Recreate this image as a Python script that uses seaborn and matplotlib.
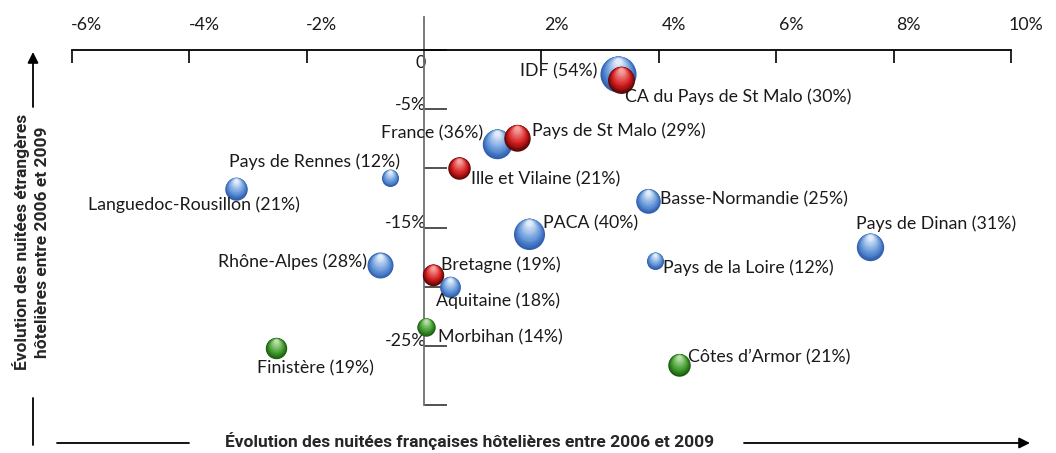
import matplotlib

matplotlib.use("Agg")
import matplotlib.pyplot as plt
import matplotlib.transforms as mtransforms
import numpy as np
import pandas as pd
import seaborn as sns
from matplotlib.colors import to_rgb

# --- data ------------------------------------------------------------------
territoires = [
    "IDF", "CA du Pays de St Malo", "France", "Pays de St Malo", "Ille et Vilaine",
    "Pays de Rennes", "Languedoc-Rousillon", "Basse-Normandie", "PACA", "Pays de Dinan",
    "Rhône-Alpes", "Pays de la Loire", "Bretagne", "Aquitaine", "Morbihan",
    "Finistère", "Côtes d’Armor",
]
evol_francaises = [3.3, 3.35, 1.25, 1.58, 0.6, -0.58, -3.2, 3.82, 1.79, 7.6,
                   -0.75, 3.93, 0.15, 0.44, 0.03, -2.52, 4.34]
evol_etrangeres = [-2.0, -2.5, -7.9, -7.4, -10.0, -10.8, -11.7, -12.75, -15.5, -16.6,
                   -18.2, -17.8, -19.0, -20.0, -23.4, -25.2, -26.6]
part_etrangers = [54, 30, 36, 29, 21, 12, 21, 25, 40, 31, 28, 12, 19, 18, 14, 19, 21]
groupe = ["autre", "ille", "autre", "ille", "ille", "autre", "autre", "autre", "autre",
          "autre", "autre", "autre", "ille", "autre", "cotes", "cotes", "cotes"]

x_ticks = [-6, -4, -2, 2, 4, 6, 8, 10]
y_ticks_major = [0, -5, -15, -25]
y_ticks_minor = [-10, -20, -30]

# --- layout / style ----------------------------------------------------------
PX = 0.72  # points per pixel at dpi 100
main_col = {"autre": "#6496da", "ille": "#d41c1c", "cotes": "#3f9a2e"}
dark_col = {"autre": "#2f5fae", "ille": "#5e0707", "cotes": "#1c5a10"}
light_col = {"autre": "#e2edf9", "ille": "#f6a0a0", "cotes": "#b8e0a8"}

# label offsets in pixels (dx, dy up) and horizontal alignment
label_pos = {
    "IDF": (-20, 2, "right"),
    "CA du Pays de St Malo": (4, -17, "left"),
    "France": (-14, 10, "right"),
    "Pays de St Malo": (15, 7, "left"),
    "Ille et Vilaine": (12, -11, "left"),
    "Pays de Rennes": (10, 16, "right"),
    "Languedoc-Rousillon": (-42, -16, "center"),
    "Basse-Normandie": (12, 2, "left"),
    "PACA": (14, 10, "left"),
    "Pays de Dinan": (66, 23, "center"),
    "Rhône-Alpes": (-13, 4, "right"),
    "Pays de la Loire": (8, -7, "left"),
    "Bretagne": (8, 10, "left"),
    "Aquitaine": (-14, -14, "left"),
    "Morbihan": (12, -10, "left"),
    "Finistère": (39, -20, "center"),
    "Côtes d’Armor": (9, 8, "left"),
}

LABEL_FONT = ["Lato", "DejaVu Sans"]
TITLE_FONT = ["Liberation Sans Narrow", "Roboto", "DejaVu Sans"]

df = pd.DataFrame({
    "territoire": territoires,
    "fr": evol_francaises,
    "etr": evol_etrangeres,
    "part": part_etrangers,
    "groupe": groupe,
})
SIZE_PER_PCT = 12.5  # marker area (pt^2) per percentage point


def mix(c1, c2, t):
    a, b = np.array(to_rgb(c1)), np.array(to_rgb(c2))
    return tuple(a + (b - a) * t)


sns.set_style("white")
plt.rcParams["font.family"] = LABEL_FONT

fig = plt.figure(figsize=(10.56, 4.53), dpi=100)
ax = fig.add_axes([0, 0, 1, 1])
ax.set_xlim(-424 / 58.7, (1056 - 424) / 58.7)
ax.set_ylim(-(453 - 50) / 11.84, 50 / 11.84)

# spheres: base disc through seaborn, then lighter discs shifted upward
n_layers = 14
for i, row in df.iterrows():
    z = 3 + i
    sns.scatterplot(
        data=df.iloc[[i]], x="fr", y="etr", hue="groupe", size="part",
        palette=dark_col, sizes=(12 * SIZE_PER_PCT, 54 * SIZE_PER_PCT), size_norm=(12, 54),
        linewidth=0, legend=False, ax=ax, zorder=z,
    )
    s = row["part"] * SIZE_PER_PCT
    r = np.sqrt(s) / 2
    g = row["groupe"]
    for k in range(1, n_layers + 1):
        t = k / n_layers
        f = 1 - 0.82 * t
        if t < 0.35:
            col = mix(dark_col[g], main_col[g], t / 0.35)
        else:
            col = mix(main_col[g], light_col[g], (t - 0.35) / 0.65)
        tr = mtransforms.offset_copy(ax.transData, fig=fig, x=0, y=r * (1 - f) * 0.85, units="points")
        ax.scatter([row["fr"]], [row["etr"]], s=(2 * r * f) ** 2, color=col, linewidths=0,
                   transform=tr, zorder=z + t * 0.5)

for _, row in df.iterrows():
    dx, dy, ha = label_pos[row["territoire"]]
    ax.annotate(
        f"{row['territoire']} ({row['part']}%)", (row["fr"], row["etr"]),
        xytext=(dx * PX, dy * PX), textcoords="offset points",
        ha=ha, va="center", fontsize=12.8, color="#1a1a1a", zorder=30,
    )

# axes: horizontal scale on top at y=0, vertical scale at x=0
for side in ["right", "bottom"]:
    ax.spines[side].set_visible(False)
ax.spines["top"].set_position(("data", 0))
ax.spines["top"].set_bounds(-6, 10)
ax.spines["top"].set_linewidth(1.3)
ax.spines["top"].set_color("black")
ax.spines["left"].set_position(("data", 0))
ax.spines["left"].set_bounds(-30, 2.8)
ax.spines["left"].set_linewidth(1.3)
ax.spines["left"].set_color("#707070")

ax.xaxis.set_ticks_position("top")
ax.set_xticks(x_ticks + [0])
ax.set_xticklabels([f"{v}%" for v in x_ticks] + [""])
ax.tick_params(axis="x", direction="in", length=13 * PX, width=1.2, color="black",
               pad=12, labelsize=12.8, labelcolor="#1a1a1a")
for lab in ax.get_xticklabels():
    lab.set_transform(lab.get_transform() + mtransforms.ScaledTranslation(15 / 100, 0, fig.dpi_scale_trans))

ax.yaxis.set_ticks_position("left")
ax.set_yticks(y_ticks_major)
ax.set_yticklabels(["0" if v == 0 else f"{v}%" for v in y_ticks_major])
ax.set_yticks(y_ticks_minor, minor=True)
ax.tick_params(axis="y", which="both", direction="in", length=23 * PX, width=1.2,
               color="#333333", pad=0, labelsize=12.8, labelcolor="#1a1a1a")
for v, lab in zip(y_ticks_major, ax.get_yticklabels()):
    shift = -12 if v == 0 else 6
    lab.set_transform(lab.get_transform() + mtransforms.ScaledTranslation(2 / 100, shift / 100, fig.dpi_scale_trans))
ax.set_xlabel("")
ax.set_ylabel("")

# titles and arrows (figure pixels, origin bottom-left)
fig.text(470 / 1056, 1 - 441 / 453, "Évolution des nuitées françaises hôtelières entre 2006 et 2009",
         ha="center", va="center", fontsize=12.5, fontweight="bold", family=TITLE_FONT)
fig.text(31 / 1056, 1 - 242 / 453, "Évolution des nuitées étrangères\nhôtelières entre 2006 et 2009",
         ha="center", va="center", rotation=90, fontsize=12.5, fontweight="bold",
         family=TITLE_FONT, linespacing=1.4, multialignment="center")

arrow = dict(arrowstyle="-|>", mutation_scale=16, lw=1.3, color="black", shrinkA=0, shrinkB=0)
line = dict(arrowstyle="-", lw=1.3, color="black", shrinkA=0, shrinkB=0)
ax.annotate("", xy=(33, 453 - 52), xytext=(33, 453 - 107), xycoords="figure pixels",
            textcoords="figure pixels", arrowprops=arrow)
ax.annotate("", xy=(33, 453 - 445), xytext=(33, 453 - 398), xycoords="figure pixels",
            textcoords="figure pixels", arrowprops=line)
ax.annotate("", xy=(189, 10), xytext=(57, 10), xycoords="figure pixels",
            textcoords="figure pixels", arrowprops=line)
ax.annotate("", xy=(1030, 10), xytext=(744, 10), xycoords="figure pixels",
            textcoords="figure pixels", arrowprops=arrow)

fig.savefig("out.png", dpi=100)
plt.close(fig)
